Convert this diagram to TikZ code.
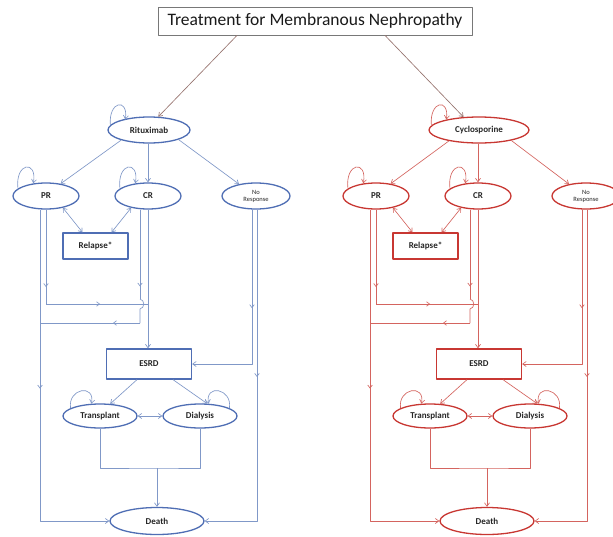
\documentclass[tikz,border=0pt]{standalone}
\usepackage{fontspec}
\setmainfont{Carlito}
\usetikzlibrary{shapes.geometric,arrows.meta,decorations.markings,calc}

\definecolor{bluenode}{RGB}{79,110,180}
\definecolor{blueline}{RGB}{128,152,200}
\definecolor{rednode}{RGB}{200,55,50}
\definecolor{redline}{RGB}{212,100,95}
\definecolor{titlegray}{RGB}{120,120,120}
\definecolor{titlearrow}{RGB}{150,115,110}

\tikzset{
  >={Straight Barb[length=3.5pt,width=5pt]},
  ell/.style={ellipse, draw=pc, line width=1.3pt, fill=white, inner sep=0pt,
    minimum height=26pt, font=\fontsize{9}{9.5}\selectfont\bfseries, text=black!85},
  boxnode/.style={rectangle, draw=pc, line width=1.3pt, fill=white, inner sep=0pt,
    font=\fontsize{9}{9.5}\selectfont\bfseries, text=black!85},
  ln/.style={draw=lc, line width=0.65pt},
  marr/.style={postaction={decorate}, decoration={markings,
    mark=at position #1 with {\arrow{Straight Barb[length=3pt,width=4.5pt]}}}},
  titlearr/.style={draw=titlearrow, line width=0.65pt, ->},
}

\newcommand\markovpanel[6]{%
\begin{scope}[xshift=#2pt]
\colorlet{pc}{#3}\colorlet{lc}{#4}
\node[ell, minimum width=#6pt] (#1T) at (149,130) {#5};
\node[ell, minimum width=66pt] (#1PR) at (46,196) {PR};
\node[ell, minimum width=66pt] (#1CR) at (148,196) {CR};
\node[ell, minimum width=68pt, font=\fontsize{6.5}{7}\selectfont, align=center] (#1NR) at (256,196) {No\\Response};
\node[boxnode, minimum width=65pt, minimum height=26pt] (#1RL) at (95.5,246) {Relapse*};
\node[boxnode, minimum width=85pt, minimum height=30pt] (#1ES) at (149,364) {ESRD};
\node[ell, minimum width=74pt, minimum height=24pt] (#1TR) at (100,416) {Transplant};
\node[ell, minimum width=74pt, minimum height=24pt] (#1DI) at (200,416) {Dialysis};
\node[ell, minimum width=94pt, minimum height=27pt] (#1DE) at (157,521) {Death};
\coordinate (#1a) at (46,304);
\coordinate (#1b) at (148,304);
\coordinate (#1h) at (140,299);
\coordinate (#1k) at (140,309);
\coordinate (#1c) at (140,323);
\coordinate (#1d) at (40,323);
\coordinate (#1J) at (157,468);
% self loops
\draw[ln,->] ($(#1T.west)+(3,-5)$) .. controls +(-2,-24) and +(3,-22) .. ($(#1T.west)+(18,-10.5)$);
\draw[ln,->] (#1PR.165) .. controls +(-3,-26) and +(4,-24) .. (#1PR.135);
\draw[ln,->] (#1CR.165) .. controls +(-3,-26) and +(4,-24) .. (#1CR.135);
\draw[ln,->] (#1TR.165) .. controls +(-3,-20) and +(4,-20) .. (#1TR.125);
\draw[ln,->] (#1DI.15) .. controls +(3,-20) and +(-4,-20) .. (#1DI.55);
% from treatment
\draw[ln,->] (#1T.200) -- (#1PR.40);
\draw[ln,->] (#1CR.north |- #1T.south) -- (#1CR.north);
\draw[ln,->] (#1T.-18) -- (#1NR.145);
% relapse
\draw[ln,<->] (#1PR.-35) -- ($(#1RL.north)+(-13,0)$);
\draw[ln,<->] (#1CR.215) -- ($(#1RL.north)+(16,0)$);
% PR outer line to death
\draw[ln,marr=0.47,->] ($(#1PR.south)+(-6,0)$) |- (#1DE.west);
% PR inner line to CR main line
\draw[ln,marr=0.82] (#1PR.south) -- (#1a);
\draw[ln,marr=0.53] (#1a) -- (#1b);
% CR main line to ESRD
\draw[ln,->] (#1CR.south) -- (#1CR.south |- #1ES.north);
% CR inner line to death (via PR outer line)
\draw[ln,marr=0.86] ($(#1CR.south)+(-8,0)$) -- (#1h);
\draw[ln] (#1h) .. controls +(5,1) and +(5,-1) .. (#1k) -- (#1c);
\draw[ln,marr=0.27] (#1c) -- (#1d);
% no response
\draw[ln,marr=0.46,->] ($(#1NR.south)+(-4,0)$) |- (#1ES.east);
\draw[ln,marr=0.46,->] ($(#1NR.south)+(1,0)$) |- (#1DE.east);
% ESRD
\draw[ln,->] ($(#1ES.south)+(-12,0)$) -- (#1TR.50);
\draw[ln,->] ($(#1ES.south)+(24,0)$) -- (#1DI.60);
\draw[ln,<->] (#1TR.east) -- (#1DI.west);
\draw[ln] (#1TR.south) |- (#1J) -| (#1DI.south);
\draw[ln,->] (#1J) -- (#1DE.north);
\end{scope}}

\begin{document}
\begin{tikzpicture}[x=1pt,y=-1pt,line join=round]
\useasboundingbox[fill=white] (0,0) rectangle (613,536);
\node[draw=titlegray, line width=0.8pt, fill=white, minimum width=314pt, minimum height=28pt,
  inner sep=0pt, font=\fontsize{17.5}{19}\selectfont, text=black!90] (title) at (315,21)
  {Treatment for Membranous Nephropathy};
\markovpanel{L}{0}{bluenode}{blueline}{Rituximab}{82}
\markovpanel{R}{330}{rednode}{redline}{Cyclosporine}{100}
\draw[titlearr] ($(title.south)+(-78,0)$) -- (LT.55);
\draw[titlearr] ($(title.south)+(70,0)$) -- (RT.140);
\end{tikzpicture}
\end{document}
